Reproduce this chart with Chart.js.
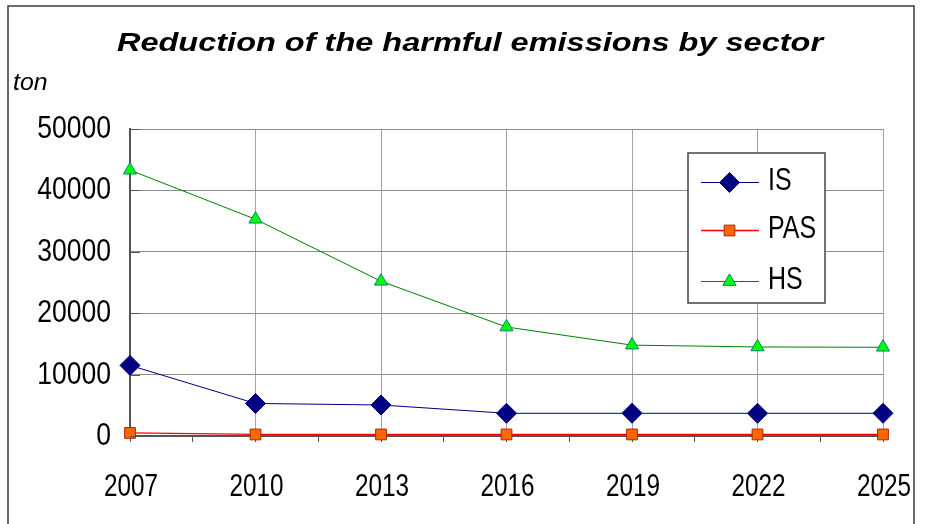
<!DOCTYPE html>
<html>
<head>
<meta charset="utf-8">
<title>Reduction of the harmful emissions by sector</title>
<script src="https://cdn.jsdelivr.net/npm/chart.js@4/dist/chart.umd.min.js"></script>
<style>
  html, body { margin: 0; padding: 0; background: #ffffff; }
  #wrap { width: 929px; height: 524px; position: relative; }
</style>
</head>
<body>
<div id="wrap"><canvas id="chart" width="929" height="524"></canvas></div>
<script>
// Emissions per sector, tonnes
const years = [2007, 2010, 2013, 2016, 2019, 2022, 2025];
const isValues = [11500, 5300, 5050, 3700, 3700, 3700, 3700];
const pasValues = [500, 250, 250, 250, 250, 250, 250];
const hsValues = [43300, 35300, 25200, 17750, 14800, 14500, 14450];
const seriesNames = ['IS', 'PAS', 'HS'];
const yTickValues = [0, 10000, 20000, 30000, 40000, 50000];
const titleText = 'Reduction of the harmful emissions by sector';
const unitText = 'ton';

const SANS = '"Liberation Sans", Arial, sans-serif';

const toPoints = vals => years.map((y, i) => ({ x: y, y: vals[i] }));

const styles = [
  { line: '#000080', fill: '#000080', edge: '#000080', shape: 'rectRot', r: 10, lw: 1 },
  { line: '#ff0000', fill: '#ff6600', edge: '#a82a00', shape: 'rect', r: 7.6, lw: 1.3 },
  { line: '#008000', fill: '#00ff00', edge: '#00807a', shape: 'triangle', r: 7.6, lw: 1 }
];
const seriesValues = [isValues, pasValues, hsValues];

// Text with a horizontal stretch factor (the chart's lettering is condensed / expanded)
function drawText(ctx, text, x, y, align, sx, font) {
  ctx.save();
  ctx.translate(x, y);
  ctx.scale(sx, 1);
  ctx.font = font;
  ctx.textAlign = align;
  ctx.textBaseline = 'alphabetic';
  ctx.fillStyle = '#000000';
  ctx.fillText(text, 0, 0);
  ctx.restore();
}

// Frame, title, unit label, axis labels and inner tick marks on the value axis
const decorations = {
  id: 'decorations',
  beforeDraw(chart) {
    const ctx = chart.ctx;
    ctx.save();
    ctx.fillStyle = '#ffffff';
    ctx.fillRect(0, 0, chart.width, chart.height);
    ctx.strokeStyle = '#3a3a3a';
    ctx.lineWidth = 1.5;
    ctx.strokeRect(8, 6, 906, 540);
    ctx.restore();
    drawText(ctx, titleText, 470, 51, 'center', 1.25, 'italic bold 26px ' + SANS);
    drawText(ctx, unitText, 13, 90, 'left', 1.08, 'italic 23px ' + SANS);
  },
  afterDraw(chart) {
    const ctx = chart.ctx;
    const xs = chart.scales.x;
    const ys = chart.scales.y;
    const x0 = chart.chartArea.left;
    ctx.save();
    ctx.strokeStyle = '#555555';
    ctx.lineWidth = 1;
    yTickValues.forEach(v => {
      const py = Math.round(ys.getPixelForValue(v)) + 0.5;
      ctx.beginPath();
      ctx.moveTo(x0, py);
      ctx.lineTo(x0 + 10, py);
      ctx.stroke();
    });
    ctx.restore();
    yTickValues.forEach(v => {
      const py = ys.getPixelForValue(v);
      drawText(ctx, String(v), 111, py + 9, 'right', 0.83, '32px ' + SANS);
    });
    years.forEach(yr => {
      const px = xs.getPixelForValue(yr);
      drawText(ctx, String(yr), px + 1, 496, 'center', 0.76, '32px ' + SANS);
    });
  }
};

// Boxed legend drawn inside the plot, each entry showing line and marker
const boxLegend = {
  id: 'boxLegend',
  afterDraw(chart) {
    const ctx = chart.ctx;
    const bx = 688, by = 153, bw = 137, bh = 150;
    ctx.save();
    ctx.fillStyle = '#ffffff';
    ctx.fillRect(bx, by, bw, bh);
    ctx.strokeStyle = '#444444';
    ctx.lineWidth = 1.5;
    ctx.strokeRect(bx, by, bw, bh);
    const rows = [182, 230, 281];
    chart.data.datasets.forEach((ds, i) => {
      const yy = rows[i];
      ctx.strokeStyle = ds.borderColor;
      ctx.lineWidth = ds.borderWidth;
      ctx.beginPath();
      ctx.moveTo(701, yy + 0.5);
      ctx.lineTo(759, yy + 0.5);
      ctx.stroke();
      ctx.fillStyle = ds.pointBackgroundColor;
      ctx.strokeStyle = ds.pointBorderColor;
      ctx.lineWidth = 1;
      Chart.helpers.drawPoint(ctx, {
        pointStyle: ds.pointStyle,
        radius: ds.pointRadius,
        borderWidth: 1,
        rotation: 0
      }, 729.5, yy + 0.5);
      drawText(ctx, ds.label, 768, yy + 8, 'left', 0.78, '32px ' + SANS);
    });
    ctx.restore();
  }
};

const datasets = seriesNames.map((name, i) => ({
  label: name,
  data: toPoints(seriesValues[i]),
  borderColor: styles[i].line,
  borderWidth: styles[i].lw,
  backgroundColor: styles[i].fill,
  pointStyle: styles[i].shape,
  pointRadius: styles[i].r,
  pointBackgroundColor: styles[i].fill,
  pointBorderColor: styles[i].edge,
  pointBorderWidth: 1,
  pointHoverRadius: styles[i].r,
  tension: 0,
  fill: false,
  clip: false
}));

new Chart(document.getElementById('chart'), {
  type: 'line',
  data: { datasets },
  options: {
    responsive: false,
    animation: false,
    events: [],
    layout: { padding: { top: 129, right: 46, left: 0, bottom: 0 } },
    plugins: {
      legend: { display: false },
      title: { display: false },
      tooltip: { enabled: false }
    },
    scales: {
      x: {
        type: 'linear',
        min: years[0],
        max: years[years.length - 1],
        afterFit(scale) { scale.height = 88; },
        afterBuildTicks(scale) {
          const t = [];
          for (let k = 0; k <= 12; k++) t.push({ value: years[0] + 1.5 * k });
          scale.ticks = t;
        },
        ticks: { display: false },
        grid: {
          drawOnChartArea: true,
          color(c) { return c.tick && years.includes(c.tick.value) ? '#a3a3a3' : 'rgba(0,0,0,0)'; },
          tickColor: '#555555',
          tickLength: 6,
          lineWidth: 1
        },
        border: { color: '#555555', width: 2 }
      },
      y: {
        type: 'linear',
        min: 0,
        max: 50000,
        afterFit(scale) { scale.width = 130; },
        afterBuildTicks(scale) { scale.ticks = yTickValues.map(v => ({ value: v })); },
        ticks: { display: false },
        grid: { color: '#8c8c8c', lineWidth: 1, drawTicks: false },
        border: { color: '#555555', width: 2 }
      }
    }
  },
  plugins: [decorations, boxLegend]
});
</script>
</body>
</html>
